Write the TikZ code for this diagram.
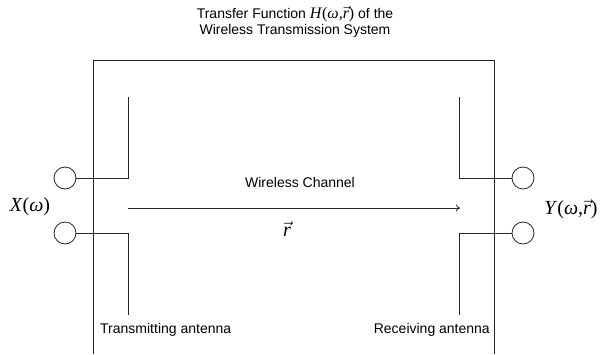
\documentclass[tikz,border=0pt]{standalone}
\usepackage{fontspec}
\setmainfont{Liberation Sans}
\newfontfamily\tnr{Liberation Serif}
\usetikzlibrary{arrows.meta}
\begin{document}
\begin{tikzpicture}[x=1pt,y=-1pt,
  wire/.style={line width=0.8pt, draw=black!85},
  port/.style={draw=black!85, circle, line width=0.8pt, minimum size=22pt, inner sep=0pt},
  lbl/.style={font=\fontsize{14}{16}\selectfont, inner sep=0pt},
  mlbl/.style={font=\tnr\fontsize{20}{22}\selectfont, inner sep=0pt}]
\useasboundingbox (0,0) rectangle (600,354);
% title
\node[lbl, align=center] (title) at (295,22) {Transfer Function {\tnr\fontsize{16}{16}\selectfont\textit{H}(\textit{ω},$\vec{\textit{r}}$)} of the\\Wireless Transmission System};
% box (open at bottom)
\coordinate (bl) at (93,354);
\coordinate (tl) at (93,60);
\coordinate (tr) at (494,60);
\coordinate (br) at (494,354);
\draw[wire] (bl) -- (tl) -- (tr) -- (br);
% ports
\node[port] (p1) at (65,178) {};
\node[port] (p2) at (65,233) {};
\node[port] (p3) at (523,178) {};
\node[port] (p4) at (523,233) {};
% transmitting antenna
\coordinate (ta1) at (128,97);
\coordinate (ta2) at (128,178);
\coordinate (ta3) at (128,233);
\coordinate (ta4) at (128,315);
\draw[wire] (ta1) -- (ta2) -- (p1.east);
\draw[wire] (p2.east) -- (ta3) -- (ta4);
% receiving antenna
\coordinate (ra1) at (459,97);
\coordinate (ra2) at (459,178);
\coordinate (ra3) at (459,233);
\coordinate (ra4) at (459,315);
\draw[wire] (ra1) -- (ra2) -- (p3.west);
\draw[wire] (p4.west) -- (ra3) -- (ra4);
% channel arrow
\coordinate (cs) at (128,208);
\coordinate (ce) at (460,208);
\draw[wire, -{To[length=4pt,width=7pt]}] (cs) -- (ce);
% labels
\node[lbl] (wc) at (300,182) {Wireless Channel};
\node[mlbl] (r) at (287,229) {$\vec{\textit{r}}$};
\node[mlbl] (x) at (30,207) {\textit{X}(\textit{ω})};
\node[mlbl] (y) at (571,209) {\textit{Y}(\textit{ω},$\vec{\textit{r}}$)};
\node[lbl, anchor=west] (tx) at (100,330) {Transmitting antenna};
\node[lbl, anchor=east] (rx) at (490,330) {Receiving antenna};
\end{tikzpicture}
\end{document}
